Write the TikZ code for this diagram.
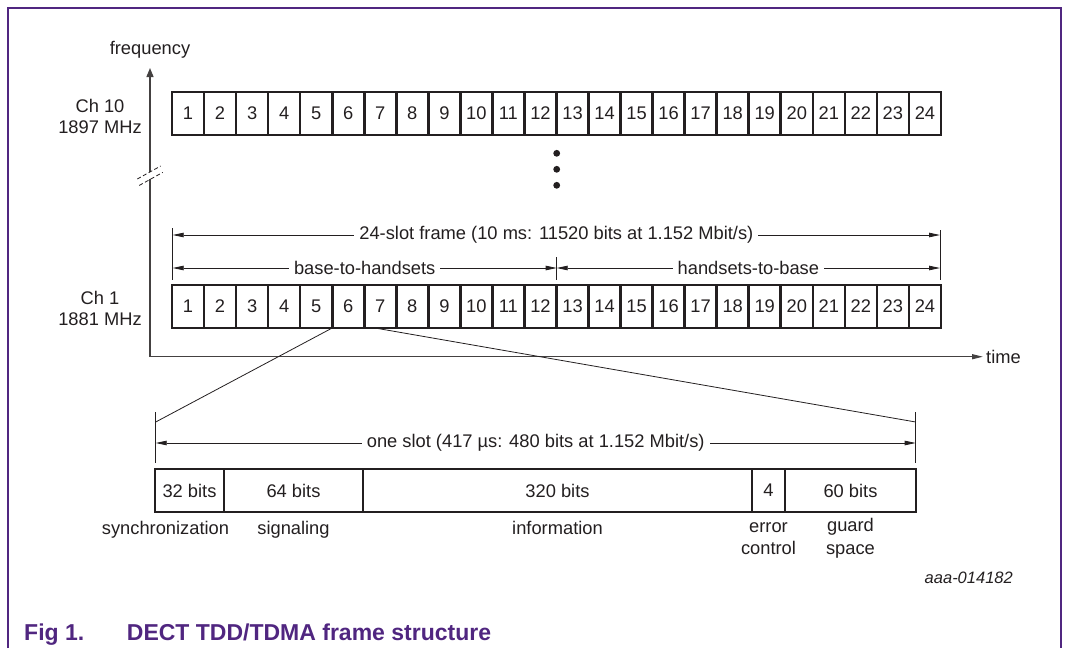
\documentclass[tikz,border=0pt]{standalone}
\usepackage{fontspec}
\setmainfont{Liberation Sans}
\usetikzlibrary{arrows.meta}
\definecolor{nxppurple}{RGB}{80,38,128}
\definecolor{ink}{RGB}{35,31,32}
\begin{document}
\begin{tikzpicture}[x=1pt,y=-1pt,
  every node/.style={text=ink},
  txt/.style={font=\fontsize{18.3}{21}\selectfont, inner sep=0pt},
  slotbox/.style={draw=ink, line width=2.6pt, minimum height=43pt, inner sep=0pt, outer sep=0pt,
     font=\fontsize{18.3}{21}\selectfont},
  thin/.style={draw=ink, line width=0.8pt},
  axisline/.style={draw=ink!85, line width=1.3pt},
  dtip/.style={{Triangle[length=11pt,width=4.5pt]}-{Triangle[length=11pt,width=4.5pt]}},
  onarrow/.style={txt, fill=white, inner xsep=5pt, inner ysep=2pt},
  dot/.style={circle, fill=ink, minimum size=6.8pt, inner sep=0pt},
  caption/.style={font=\fontsize{23}{26}\selectfont\bfseries, text=nxppurple, inner sep=0pt, anchor=base west}
]
\useasboundingbox (0,0) rectangle (1065,648);
% frame border
\draw[nxppurple, line width=1.4pt] (8,648) -- (8,8) -- (1061,8) -- (1061,648);

% axes
\coordinate (O) at (150,356.7);
\coordinate (ytip) at (150,68);
\coordinate (xtip) at (983,356.7);
\coordinate (bk1) at (150,179.3);
\coordinate (bk2) at (150,171.9);
\draw[axisline] (O) -- (bk1);
\draw[axisline, -{Triangle[length=9pt,width=7pt]}] (bk2) -- (ytip);
\draw[axisline, -{Triangle[length=11pt,width=5pt]}] (O) -- (xtip);
\node[txt, anchor=south] (freq) at (150,58) {frequency};
\node[txt, anchor=base west] (time) at (986,363.5) {time};
% break marks
\draw[thin, dash pattern=on 4pt off 2.5pt] (137.3,179) -- (160.7,166);
\draw[thin, dash pattern=on 4pt off 2.5pt] (139.3,185.4) -- (162.7,172.4);

% channel labels
\node[txt, align=center, font=\fontsize{18.3}{20.5}\selectfont] (ch10) at (100,116.5) {Ch 10\\1897 MHz};
\node[txt, align=center, font=\fontsize{18.3}{21}\selectfont] (ch1) at (100,308.5) {Ch 1\\1881 MHz};

% slot rows
\foreach \i in {1,...,24}{
  \node[slotbox, minimum width=32.04pt] (a\i) at ({172+32.04*(\i-0.5)},113.5) {\i};
  \node[slotbox, minimum width=32.04pt] (b\i) at ({172+32.04*(\i-0.5)},306.5) {\i};
}

% dots
\node[dot] (d1) at (556.7,153.3) {};
\node[dot] (d2) at (556.7,169.3) {};
\node[dot] (d3) at (556.7,185.3) {};

% frame dimension lines
\coordinate (fL) at (172.7,235);
\coordinate (fR) at (940,235);
\coordinate (hL) at (172.7,268);
\coordinate (hM) at (556.7,268);
\coordinate (hR) at (940,268);
\draw[thin] (172.7,228) -- (172.7,280);
\draw[thin] (940,230) -- (940,280);
\draw[thin] (556.7,257) -- (556.7,280);
\draw[thin, dtip] (fL) -- (fR) node[onarrow, midway] (flab) {24-slot frame (10 ms: 11520 bits at 1.152 Mbit/s)};
\draw[thin, dtip] (hL) -- (hM) node[onarrow, midway] (blab) {base-to-handsets};
\draw[thin, dtip] (hM) -- (hR) node[onarrow, midway] (hlab) {handsets-to-base};

% zoom lines
\coordinate (sL) at (155.7,422);
\coordinate (sR) at (915.7,422);
\coordinate (s7) at (375,328);
\draw[thin] (b6.south west) -- (sL);
\draw[thin] (s7) -- (sR);

% slot dimension line
\draw[thin] (155.7,412) -- (155.7,463);
\draw[thin] (915.7,412) -- (915.7,463);
\coordinate (oL) at (155.7,443);
\coordinate (oR) at (915.7,443);
\draw[thin, dtip] (oL) -- (oR) node[onarrow, midway] (olab) {one slot (417 µs: 480 bits at 1.152 Mbit/s)};

% slot structure
\node[slotbox, minimum width=69pt] (p1) at (189.5,490.5) {32 bits};
\node[slotbox, minimum width=139pt] (p2) at (293.5,490.5) {64 bits};
\node[slotbox, minimum width=389pt] (p3) at (557.5,490.5) {320 bits};
\node[slotbox, minimum width=33pt] (p4) at (768.5,490.5) {4};
\node[slotbox, minimum width=131pt] (p5) at (850.5,490.5) {60 bits};

\node[txt, anchor=base] (l1) at (165.5,534.5) {synchronization};
\node[txt, anchor=base] (l2) at (293.5,534.5) {signaling};
\node[txt, anchor=base] (l3) at (557.5,534.5) {information};
\node[txt, align=center, font=\fontsize{18.3}{22.5}\selectfont] (l4) at (768.5,538.5) {error\\control};
\node[txt, align=center, font=\fontsize{18.3}{22.5}\selectfont] (l5) at (850.5,538.5) {guard\\space};

\node[txt, anchor=east, font=\fontsize{16.5}{19}\selectfont\itshape] (id) at (1013,578) {aaa-014182};

% caption
\node[caption] (fig) at (24,640) {Fig 1.};
\node[caption] (title) at (126.7,640) {DECT TDD/TDMA frame structure};
\end{tikzpicture}
\end{document}
